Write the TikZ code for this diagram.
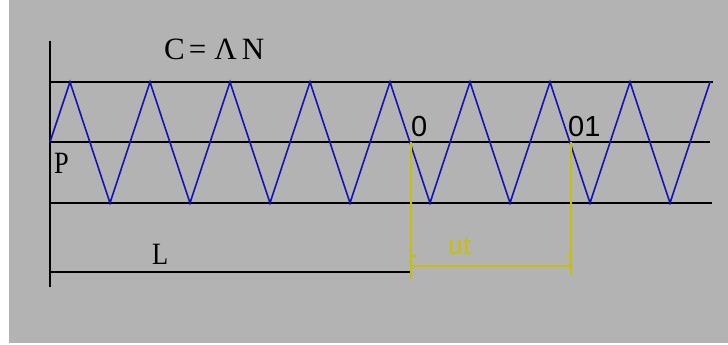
\documentclass[tikz,border=0pt]{standalone}
\usepackage{fontspec}
\newfontfamily\lblfont[FakeStretch=0.85]{Liberation Serif}
\newfontfamily\eqfont{Liberation Serif}
\newfontfamily\numfont{Liberation Sans}
\definecolor{bggray}{HTML}{B3B3B3}
\definecolor{zigblue}{HTML}{1414B4}
\definecolor{dimyellow}{HTML}{C8C000}
\begin{document}
\begin{tikzpicture}[x=1pt,y=-1pt,
  blackline/.style={line width=2pt,black},
  zig/.style={line width=1.6pt,zigblue,line join=miter},
  dimline/.style={line width=2pt,dimyellow},
  lbl/.style={inner sep=0pt,anchor=south west,font=\lblfont\fontsize{31}{31}\selectfont},
  num/.style={inner sep=0pt,anchor=south west,font=\numfont\fontsize{29}{29}\selectfont}]
\useasboundingbox (0,0) rectangle (728,345);
\fill[white] (0,0) rectangle (728,345);
\fill[bggray] (9,0) rectangle (728,343);
% frame lines
\coordinate (vtop) at (50,41);
\coordinate (vbot) at (50,287);
\draw[blackline] (vtop) -- (vbot);
\coordinate (t0) at (50,82);  \coordinate (t1) at (713,82);
\coordinate (m0) at (50,142); \coordinate (m1) at (710,142);
\coordinate (b0) at (50,203); \coordinate (b1) at (712,203);
\coordinate (l0) at (50,272); \coordinate (l1) at (411,272);
\draw[blackline] (t0) -- (t1);
\draw[blackline] (m0) -- (m1);
\draw[blackline] (b0) -- (b1);
\draw[blackline] (l0) -- (l1);
% zigzag
\draw[zig] (50,142) -- (70,82)
  \foreach \k in {0,...,7} { -- ({110+80*\k},203) -- ({150+80*\k},82) }
  ;
% yellow dimension
\coordinate (ya0) at (411,142); \coordinate (ya1) at (411,279);
\coordinate (yb0) at (571,142); \coordinate (yb1) at (571,275);
\coordinate (yh0) at (411,266); \coordinate (yh1) at (571,266);
\draw[dimline] (ya0) -- (ya1);
\draw[dimline] (yb0) -- (yb1);
\draw[dimline] (yh0) -- (yh1);
\draw[dimyellow,line width=1.2pt] (411,256) -- (416,256);
\draw[dimyellow,line width=1.2pt] (566,256) -- (571,256);
\node[inner sep=0pt,anchor=base west,text=dimyellow,font=\eqfont\fontsize{30}{30}\selectfont] (ut) at (448,254) {ut};
% labels
\node[inner sep=0pt,anchor=south west,font=\eqfont\fontsize{31}{31}\selectfont] (cl) at (164,60) {C\hspace{4pt}=\hspace{8pt}Λ\hspace{5pt}N};
\node[lbl] (pl) at (54,174) {P};
\node[lbl] (ll) at (152,265) {L};
\node[num] (zl) at (411,137) {0};
\node[num] (ol) at (568,137) {01};
\end{tikzpicture}
\end{document}
